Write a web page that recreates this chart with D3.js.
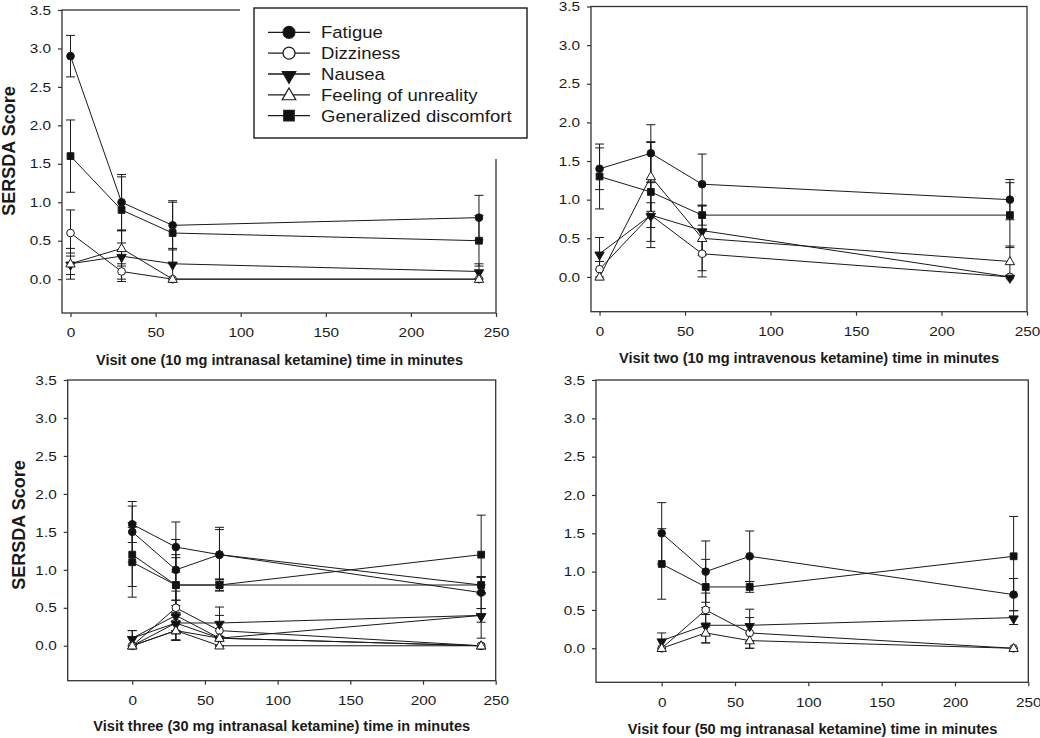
<!DOCTYPE html>
<html><head><meta charset="utf-8">
<script src="https://cdn.jsdelivr.net/npm/d3@7"></script>
<style>body{margin:0;background:#fff}svg{display:block;font-family:Arial,"Liberation Sans",sans-serif}</style>
</head><body><svg id="c" width="1040" height="738"></svg>
<script>
// ---------- data ----------
const times = [0, 30, 60, 240];
const xTicks = [0, 50, 100, 150, 200, 250];
const yTicks = [0, 0.5, 1.0, 1.5, 2.0, 2.5, 3.0, 3.5];
const seriesNames = ["Fatigue", "Dizziness", "Nausea", "Feeling of unreality", "Generalized discomfort"];
const panelTitles = [
  "Visit one (10 mg intranasal ketamine) time in minutes",
  "Visit two (10 mg intravenous ketamine) time in minutes",
  "Visit three (30 mg intranasal ketamine) time in minutes",
  "Visit four (50 mg intranasal ketamine) time in minutes"
];
const yTitle = "SERSDA Score";

// Visit one
const v1Fatigue = [2.9, 1.0, 0.7, 0.8],      v1FatigueErr = [0.27, 0.36, 0.32, 0.29];
const v1Dizziness = [0.6, 0.1, 0.0, 0.0],    v1DizzinessErr = [0.30, 0.10, 0, 0];
const v1Nausea = [0.2, 0.3, 0.2, 0.1],       v1NauseaErr = [0.20, 0.33, 0.20, 0.10];
const v1Unreality = [0.2, 0.4, 0.0, 0.0],    v1UnrealityErr = [0.14, 0.23, 0, 0];
const v1Discomfort = [1.6, 0.9, 0.6, 0.5],   v1DiscomfortErr = [0.47, 0.43, 0.40, 0.33];
// Visit two
const v2Fatigue = [1.4, 1.6, 1.2, 1.0],      v2FatigueErr = [0.27, 0.37, 0.39, 0.26];
const v2Dizziness = [0.1, 0.8, 0.3, 0.0],    v2DizzinessErr = [0.10, 0.16, 0.30, 0];
const v2Nausea = [0.3, 0.8, 0.6, 0.0],       v2NauseaErr = [0.21, 0.42, 0.32, 0];
const v2Unreality = [0.0, 1.3, 0.5, 0.2],    v2UnrealityErr = [0, 0.45, 0.42, 0.20];
const v2Discomfort = [1.3, 1.1, 0.8, 0.8],   v2DiscomfortErr = [0.42, 0.64, 0.13, 0.42];
// Visit three (panel also shows a second overlaid set)
const v3Fatigue = [1.6, 1.3, 1.2, 0.8],      v3FatigueErr = [0.24, 0.33, 0.36, 0.11];
const v3Dizziness = [0.0, 0.3, 0.1, 0.0],    v3DizzinessErr = [0, 0.10, 0.10, 0];
const v3Nausea = [0.1, 0.4, 0.1, 0.4],       v3NauseaErr = [0.10, 0.20, 0.10, 0.30];
const v3Unreality = [0.0, 0.2, 0.0, 0.0],    v3UnrealityErr = [0, 0.12, 0, 0];
const v3Discomfort = [1.2, 0.8, 0.8, 0.8],   v3DiscomfortErr = [0.42, 0.40, 0.08, 0.10];
// Visit four
const v4Fatigue = [1.5, 1.0, 1.2, 0.7],      v4FatigueErr = [0.40, 0.40, 0.33, 0.21];
const v4Dizziness = [0.0, 0.5, 0.2, 0.0],    v4DizzinessErr = [0, 0.22, 0.20, 0];
const v4Nausea = [0.1, 0.3, 0.3, 0.4],       v4NauseaErr = [0.10, 0.23, 0.21, 0.09];
const v4Unreality = [0.0, 0.2, 0.1, 0.0],    v4UnrealityErr = [0, 0.13, 0.10, 0];
const v4Discomfort = [1.1, 0.8, 0.8, 1.2],   v4DiscomfortErr = [0.46, 0.36, 0.07, 0.52];

// ---------- build ----------
function set(f, fe, d, de, n, ne, u, ue, g, ge) {
  return [
    {k: 0, v: f, e: fe}, {k: 1, v: d, e: de}, {k: 2, v: n, e: ne}, {k: 3, v: u, e: ue}, {k: 4, v: g, e: ge}
  ];
}
const set1 = set(v1Fatigue, v1FatigueErr, v1Dizziness, v1DizzinessErr, v1Nausea, v1NauseaErr, v1Unreality, v1UnrealityErr, v1Discomfort, v1DiscomfortErr);
const set2 = set(v2Fatigue, v2FatigueErr, v2Dizziness, v2DizzinessErr, v2Nausea, v2NauseaErr, v2Unreality, v2UnrealityErr, v2Discomfort, v2DiscomfortErr);
const set3 = set(v3Fatigue, v3FatigueErr, v3Dizziness, v3DizzinessErr, v3Nausea, v3NauseaErr, v3Unreality, v3UnrealityErr, v3Discomfort, v3DiscomfortErr);
const set4 = set(v4Fatigue, v4FatigueErr, v4Dizziness, v4DizzinessErr, v4Nausea, v4NauseaErr, v4Unreality, v4UnrealityErr, v4Discomfort, v4DiscomfortErr);

const panels = [
  {series: set1, x0: 62, x1: 496, y0: 10, y1: 313, xmin: -5, ymin: -0.44, tx: 279.5, ty: 365, yt: [15, 151]},
  {series: set2, x0: 591, x1: 1027, y0: 6.5, y1: 311.7, xmin: -5, ymin: -0.45, tx: 809, ty: 363},
  {series: set3.concat(set4), x0: 67.7, x1: 495.7, y0: 380, y1: 680.7, xmin: -44.4, ymin: -0.46, tx: 281.7, ty: 731, yt: [25, 525]},
  {series: set4, x0: 596, x1: 1028.3, y0: 380, y1: 682.3, xmin: -44.8, ymin: -0.444, tx: 812.5, ty: 734}
];

const INK = "#1a1a1a", FRAME = "#333";
const symTypes = [d3.symbolCircle, d3.symbolCircle, d3.symbolTriangle, d3.symbolTriangle, d3.symbolSquare];
const symFill = ["#111", "#fff", "#111", "#fff", "#111"];
const symRot = [0, 0, 180, 0, 0];
const symSize = [46, 46, 38, 38, 46];
const legSize = [113, 113, 80, 80, 110];

const svg = d3.select("#c");

// widen glyphs slightly (reference lettering is horizontally stretched)
function stretch(sel, f) {
  sel.each(function () {
    const w = this.getComputedTextLength();
    if (w > 0) d3.select(this).attr("textLength", w * f).attr("lengthAdjust", "spacingAndGlyphs");
  });
}

panels.forEach((p, pi) => {
  const x = d3.scaleLinear().domain([p.xmin, 250]).range([p.x0, p.x1]);
  const y = d3.scaleLinear().domain([p.ymin, 3.5]).range([p.y1, p.y0]);
  const g = svg.append("g");

  // frame
  g.append("rect").attr("x", p.x0).attr("y", p.y0).attr("width", p.x1 - p.x0).attr("height", p.y1 - p.y0)
    .attr("fill", "none").attr("stroke", FRAME).attr("stroke-width", 1.3);

  // axes
  const ya = g.append("g").attr("transform", `translate(${p.x0},0)`)
    .call(d3.axisLeft(y).tickValues(yTicks).tickFormat(d3.format(".1f")).tickSize(4).tickSizeOuter(0).tickPadding(7));
  const xa = g.append("g").attr("transform", `translate(0,${p.y1})`)
    .call(d3.axisBottom(x).tickValues(xTicks).tickFormat(d3.format("d")).tickSize(4).tickSizeOuter(0).tickPadding(11));
  [ya, xa].forEach(a => {
    a.select(".domain").remove();
    a.selectAll(".tick line").attr("stroke", FRAME).attr("stroke-width", 1.2);
    a.selectAll(".tick text").attr("fill", INK).style("font-size", "13px").style("font-family", "Arial, 'Liberation Sans', sans-serif");
    stretch(a.selectAll(".tick text"), 1.18);
  });

  // axis titles
  const t = g.append("text").attr("x", p.tx).attr("y", p.ty).attr("text-anchor", "middle")
    .attr("font-weight", "bold").attr("font-size", "14px").attr("fill", INK).text(panelTitles[pi]);
  stretch(t, 1.04);
  if (p.yt) {
    g.append("text").attr("transform", `translate(${p.yt[0]},${p.yt[1]}) rotate(-90)`)
      .attr("text-anchor", "middle").attr("font-weight", "bold").attr("font-size", "18px").attr("fill", INK).text(yTitle);
  }

  const line = d3.line().x((d, i) => x(times[i])).y(d => y(d));

  // error bars
  p.series.forEach(s => {
    s.v.forEach((v, i) => {
      const e = s.e[i];
      if (!e) return;
      const cx = x(times[i]);
      g.append("line").attr("x1", cx).attr("x2", cx).attr("y1", y(v + e)).attr("y2", y(v - e))
        .attr("stroke", INK).attr("stroke-width", 1);
      [v + e, v - e].forEach(tv => {
        g.append("line").attr("x1", cx - 4.5).attr("x2", cx + 4.5).attr("y1", y(tv)).attr("y2", y(tv))
          .attr("stroke", INK).attr("stroke-width", 1);
      });
    });
  });
  // lines
  p.series.forEach(s => {
    g.append("path").datum(s.v).attr("d", line).attr("fill", "none").attr("stroke", INK).attr("stroke-width", 1);
  });
  // markers
  p.series.forEach(s => {
    s.v.forEach((v, i) => {
      g.append("path").attr("d", d3.symbol().type(symTypes[s.k]).size(symSize[s.k])())
        .attr("transform", `translate(${x(times[i])},${y(v) + (s.k === 2 ? 1 : s.k === 3 ? 0.5 : 0)}) rotate(${symRot[s.k]})`)
        .attr("fill", symFill[s.k]).attr("stroke", INK).attr("stroke-width", 1);
    });
  });
});

// legend (overlays top-right corner of first panel)
svg.append("rect").attr("x", 240).attr("y", 0).attr("width", 265).attr("height", 159).attr("fill", "#fff");
const lg = svg.append("g");
lg.append("rect").attr("x", 254).attr("y", 8).attr("width", 273).attr("height", 130)
  .attr("fill", "#fff").attr("stroke", INK).attr("stroke-width", 1.4);
const legY = d3.scalePoint().domain(seriesNames).range([32.3, 115.7]);
seriesNames.forEach((n, k) => {
  const yy = legY(n);
  lg.append("line").attr("x1", 268).attr("x2", 310).attr("y1", yy).attr("y2", yy).attr("stroke", INK).attr("stroke-width", 1.3);
  lg.append("path").attr("d", d3.symbol().type(symTypes[k]).size(legSize[k])())
    .attr("transform", `translate(289,${yy + (k === 2 ? 1.5 : k === 3 ? 1 : 0)}) rotate(${symRot[k]})`)
    .attr("fill", symFill[k]).attr("stroke", INK).attr("stroke-width", 1.2);
  const lt = lg.append("text").attr("x", 321).attr("y", yy + 6).attr("font-size", "17px").attr("fill", INK).text(n);
  stretch(lt, 1.09);
});
</script>
</body></html>
